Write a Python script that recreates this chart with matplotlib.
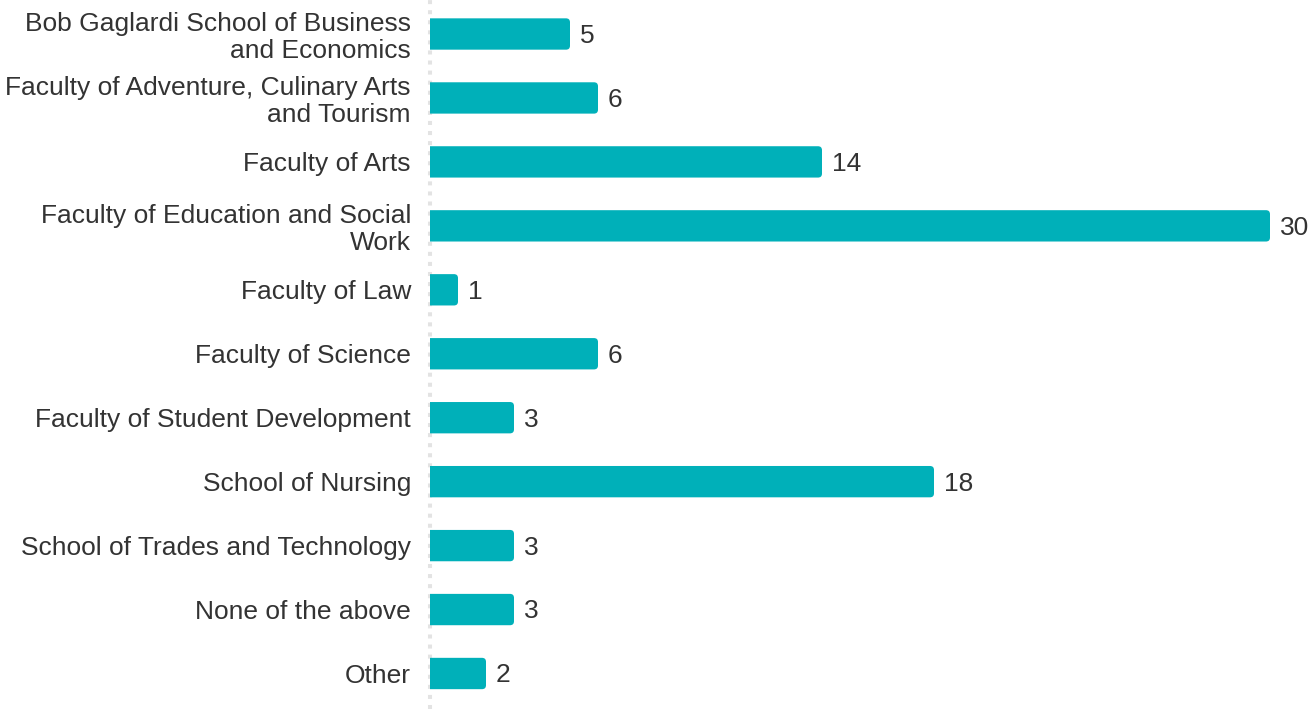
import matplotlib.pyplot as plt
from matplotlib.patches import FancyBboxPatch

plt.rcParams["font.family"] = ["Liberation Sans", "DejaVu Sans"]

# data
faculties = [
    "Bob Gaglardi School of Business\nand Economics",
    "Faculty of Adventure, Culinary Arts\nand Tourism",
    "Faculty of Arts",
    "Faculty of Education and Social\nWork",
    "Faculty of Law",
    "Faculty of Science",
    "Faculty of Student Development",
    "School of Nursing",
    "School of Trades and Technology",
    "None of the above",
    "Other",
]
counts = [5, 6, 14, 30, 1, 6, 3, 18, 3, 3, 2]

BAR_COLOR = "#00B0B9"
TEXT_COLOR = "#333333"
FS = 19

W, H = 1314, 709
PX_PER_UNIT = 28.0
ROW_PX = 63.95
AX_LEFT = 430

fig = plt.figure(figsize=(W / 100, H / 100), dpi=100)
ax = fig.add_axes([AX_LEFT / W, 0, (W - AX_LEFT) / W, 1])

ypos = list(range(len(counts)))
bars = ax.barh(ypos, counts, height=0.49, color=BAR_COLOR)

# swap plain rectangles for ones with rounded corners; the left corners
# start a little left of the axes edge so clipping keeps them square
r = 4 / PX_PER_UNIT
aspect = PX_PER_UNIT / ROW_PX
ext = 0.3
for b in bars:
    x0, y0, w, h = b.get_x(), b.get_y(), b.get_width(), b.get_height()
    b.set_visible(False)
    p = FancyBboxPatch((x0 - ext, y0), w + ext, h,
                       boxstyle=f"round,pad=0,rounding_size={r}",
                       mutation_aspect=aspect,
                       fc=BAR_COLOR, ec="none", zorder=3, clip_on=True)
    ax.add_patch(p)

for y, v in zip(ypos, counts):
    ax.annotate(str(v), (v, y), xytext=(7.2, -1.4), textcoords="offset points",
                ha="left", va="center", fontsize=FS, color=TEXT_COLOR)

# dotted baseline, square dots ~4px every 10px
ax.axvline(0, color="#e3e3e3", lw=2.9, ls=(0, (1.0, 1.5)), zorder=1,
           solid_capstyle="butt", dash_capstyle="butt", clip_on=False)

ax.set_xlim(0, (W - AX_LEFT) / PX_PER_UNIT)
ax.set_ylim((H - 34) / ROW_PX, -34 / ROW_PX)
ax.set_yticks(ypos)
ax.set_yticklabels(faculties, fontsize=FS, color=TEXT_COLOR,
                   linespacing=1.13, ha="right")
ax.tick_params(axis="y", length=0, pad=13.7)
ax.set_xticks([])
for s in ax.spines.values():
    s.set_visible(False)

plt.savefig("out.png", dpi=100)
plt.close()
